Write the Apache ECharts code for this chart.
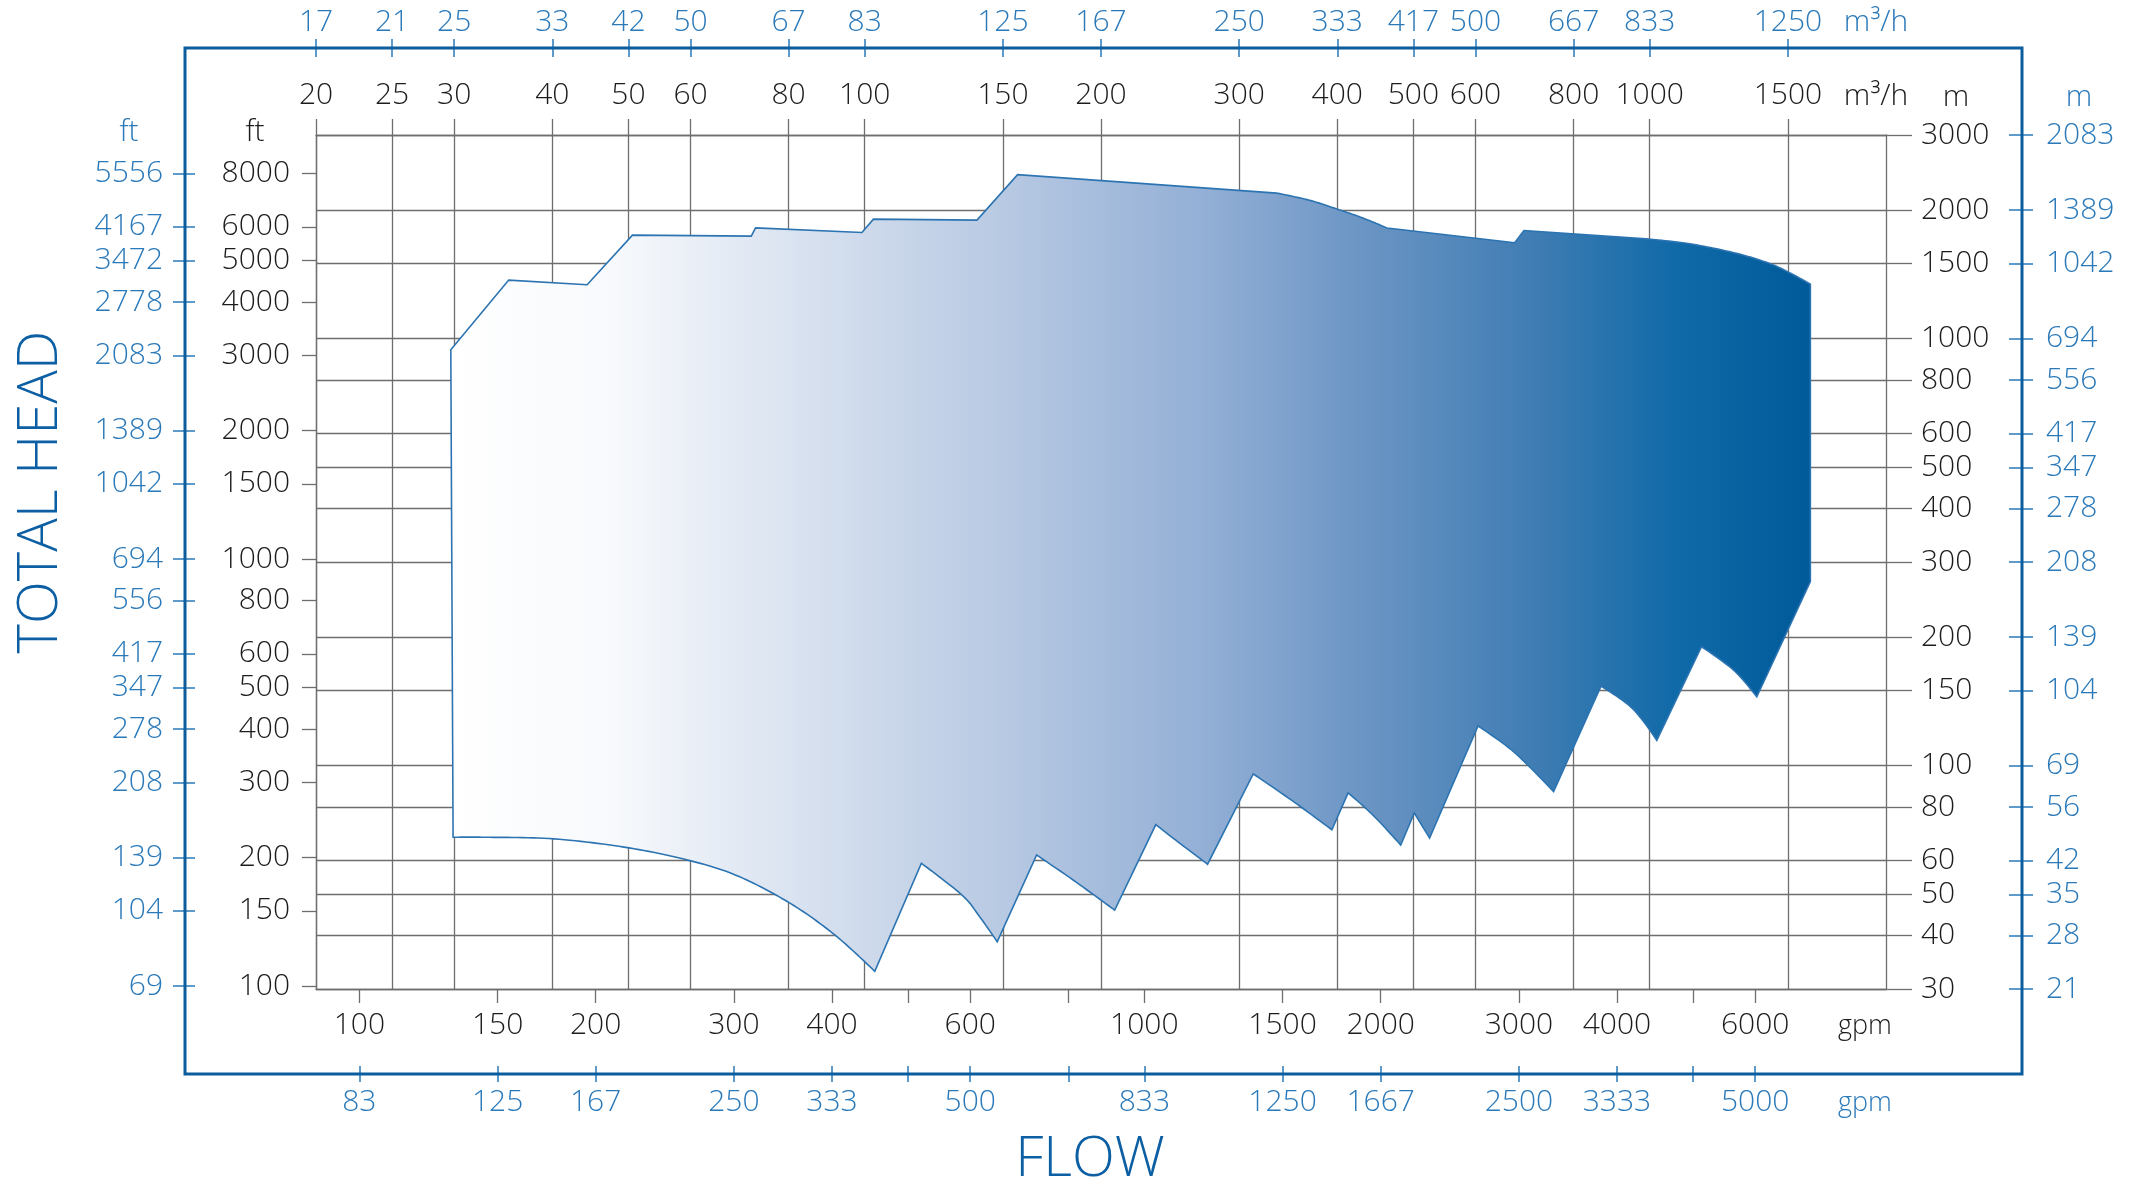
<!DOCTYPE html>
<html>
<head>
<meta charset="utf-8">
<script src="https://cdn.jsdelivr.net/npm/echarts@6/dist/echarts.min.js"></script>
<style>
html,body{margin:0;padding:0;background:#fff;}
#chart{width:2136px;height:1186px;}
</style>
</head>
<body>
<div id="chart"></div>
<script>
// ---------------- data ----------------
const mhTicks = [20,25,30,40,50,60,80,100,150,200,300,400,500,600,800,1000,1500];
const mhBlueLabels = ['17','21','25','33','42','50','67','83','125','167','250','333','417','500','667','833','1250'];
const gpmTicks = [100,150,200,300,400,500,600,800,1000,1500,2000,3000,4000,5000,6000];
const gpmLabels = ['100','150','200','300','400','','600','','1000','1500','2000','3000','4000','','6000'];
const gpmBlueLabels = ['83','125','167','250','333','','500','','833','1250','1667','2500','3333','','5000'];
const mTicks = [30,40,50,60,80,100,150,200,300,400,500,600,800,1000,1500,2000,3000];
const mBlueLabels = ['21','28','35','42','56','69','104','139','208','278','347','417','556','694','1042','1389','2083'];
const ftTicks = [100,150,200,300,400,500,600,800,1000,1500,2000,3000,4000,5000,6000,8000];
const ftBlueLabels = ['69','104','139','208','278','347','417','556','694','1042','1389','2083','2778','3472','4167','5556'];

// operating range envelope (flow m³/h, head m), clockwise from lower-left corner
const shapeFlow = [29.9, 29.7, 35.2, 44.3, 50.6, 71.7, 72.6, 99.2, 102.6, 139, 156.6, 334.9, 368.7, 402.6, 432.6, 462.8, 673, 691.5, 1000, 1130, 1284, 1414, 1507, 1602,
  1602, 1369, 1279, 1164, 1021, 951, 866.9, 754.4, 671.8, 604.4, 524.4, 501.3, 481.8, 444.8, 412.9, 393.7, 352.8, 312.6, 273.4, 251.8, 234.9,
  208.2, 184.3, 165.6, 147.5, 140.1, 133, 118.1, 103, 91.7, 80.4, 69.2, 60.4, 50.1, 40.2, 32.9];
const shapeHead = [68, 942, 1372, 1338, 1748, 1739, 1818, 1773, 1906, 1896, 2422, 2193, 2110, 2003, 1913, 1817, 1678, 1792, 1711, 1666, 1588, 1506, 1428, 1342,
  270, 145, 167.5, 190, 114.7, 136.1, 153.6, 87, 107.6, 123.9, 67.7, 77.5, 65.2, 76.4, 86.4, 70.8, 82.1, 95.7, 58.8, 65.9, 72.8,
  45.9, 54.0, 61.8, 38.7, 44.3, 49.8, 59.1, 33, 40.1, 47.6, 55.0, 59.7, 64.2, 67.4, 68.0];
// 1 = the outline passes smoothly through this point (pump curve), 0 = corner
const shapeSmooth = [0, 0, 0, 0, 0, 0, 0, 0, 0, 0, 0, 0, 1, 1, 1, 0, 0, 0, 0, 1, 1, 1, 1, 0,
  0, 0, 1, 0, 0, 1, 0, 0, 1, 0, 0, 0, 0, 1, 0, 0, 1, 0, 0, 1, 0,
  0, 1, 0, 0, 1, 1, 0, 0, 1, 1, 1, 1, 1, 1, 1];

// ---------------- helpers ----------------
const LOG = Math.log10;
const GPM2M3H = 0.2271247;
const FT2M = 0.3048;
const FONT = 'Open Sans';
const BLACK = '#1c1c1c';
const BLUE = '#2a79b9';
const DARKBLUE = '#0d5fa3';
const GRID = '#6e6e6e';

function labeler(vals, labels) {
  return function (v) {
    for (let i = 0; i < vals.length; i++) {
      if (Math.abs(vals[i] - v) < 1e-7) return labels[i];
    }
    return '';
  };
}

const X_MIN = LOG(20), X_MAX = LOG(2000);
const Y_MIN = LOG(30), Y_MAX = LOG(3000);
const FT_MIN = LOG(30 / FT2M), FT_MAX = LOG(3000 / FT2M);

const mhVals = mhTicks.map(LOG);
const gpmVals = gpmTicks.map(g => LOG(g * GPM2M3H));
const mVals = mTicks.map(LOG);
const ftVals = ftTicks.map(LOG);

const labelBase = { fontFamily: FONT, fontSize: 30, fontWeight: 300 };

const shapeData = shapeFlow.map((q, i) => [LOG(q), LOG(shapeHead[i])]);

// outline in pixels: straight between corners, Catmull-Rom through smooth points
function outline(P) {
  const n = P.length, out = [];
  const STEPS = 14;
  for (let i = 0; i < n; i++) {
    const p0 = P[(i - 1 + n) % n], a = P[i], b = P[(i + 1) % n], p3 = P[(i + 2) % n];
    const sa = shapeSmooth[i], sb = shapeSmooth[(i + 1) % n];
    out.push(a);
    if (!sa && !sb) continue;
    const c1 = sa ? [a[0] + (b[0] - p0[0]) / 6, a[1] + (b[1] - p0[1]) / 6] : a;
    const c2 = sb ? [b[0] - (p3[0] - a[0]) / 6, b[1] - (p3[1] - a[1]) / 6] : b;
    for (let s = 1; s < STEPS; s++) {
      const t = s / STEPS, u = 1 - t;
      out.push([
        u * u * u * a[0] + 3 * u * u * t * c1[0] + 3 * u * t * t * c2[0] + t * t * t * b[0],
        u * u * u * a[1] + 3 * u * u * t * c1[1] + 3 * u * t * t * c2[1] + t * t * t * b[1]
      ]);
    }
  }
  return out;
}

const chart = echarts.init(document.getElementById('chart'), null, { renderer: 'canvas' });

const option = {
  backgroundColor: '#ffffff',
  animation: false,
  grid: { left: 316, top: 135, width: 1570, height: 854, containLabel: false },
  xAxis: [
    { // m³/h black, top
      type: 'value', position: 'top', offset: 0, min: X_MIN, max: X_MAX,
      axisLine: { show: true, lineStyle: { color: GRID, width: 1.3 } },
      axisTick: { show: true, customValues: mhVals, length: 16, lineStyle: { color: GRID, width: 1.3 } },
      axisLabel: Object.assign({ customValues: mhVals, margin: 25, color: BLACK, formatter: labeler(mhVals, mhTicks.map(String)) }, labelBase),
      splitLine: { show: true, lineStyle: { color: GRID, width: 1.3 } }
    },
    { // m³/h blue, top frame
      type: 'value', position: 'top', offset: 78, min: X_MIN, max: X_MAX,
      axisLine: { show: false },
      axisTick: { show: true, customValues: mhVals, length: 18, lineStyle: { color: BLUE, width: 1.5 } },
      axisLabel: Object.assign({ customValues: mhVals, margin: 20, color: BLUE, formatter: labeler(mhVals, mhBlueLabels) }, labelBase),
      splitLine: { show: false }
    },
    { // gpm black, bottom
      type: 'value', position: 'bottom', offset: 0, min: X_MIN, max: X_MAX,
      axisLine: { show: true, lineStyle: { color: GRID, width: 1.3 } },
      axisTick: { show: true, customValues: gpmVals, length: 14, lineStyle: { color: GRID, width: 1.3 } },
      axisLabel: Object.assign({ customValues: gpmVals, margin: 21, color: BLACK, formatter: labeler(gpmVals, gpmLabels) }, labelBase),
      splitLine: { show: false }
    },
    { // gpm blue, bottom frame
      type: 'value', position: 'bottom', offset: 77, min: X_MIN, max: X_MAX,
      axisLine: { show: false },
      axisTick: { show: true, customValues: gpmVals, length: 16, lineStyle: { color: BLUE, width: 1.5 } },
      axisLabel: Object.assign({ customValues: gpmVals, margin: 21, color: BLUE, formatter: labeler(gpmVals, gpmBlueLabels) }, labelBase),
      splitLine: { show: false }
    }
  ],
  yAxis: [
    { // m black, right
      type: 'value', position: 'right', offset: 0, min: Y_MIN, max: Y_MAX,
      axisLine: { show: true, lineStyle: { color: GRID, width: 1.3 } },
      axisTick: { show: true, customValues: mVals, length: 26, lineStyle: { color: GRID, width: 1.3 } },
      axisLabel: Object.assign({ customValues: mVals, margin: 35, color: BLACK, formatter: labeler(mVals, mTicks.map(String)) }, labelBase),
      splitLine: { show: true, lineStyle: { color: GRID, width: 1.3 } }
    },
    { // m blue, right frame
      type: 'value', position: 'right', offset: 123, min: Y_MIN, max: Y_MAX,
      axisLine: { show: false },
      axisTick: { show: true, customValues: mVals, length: 24, lineStyle: { color: BLUE, width: 1.5 } },
      axisLabel: Object.assign({ customValues: mVals, margin: 37, color: BLUE, formatter: labeler(mVals, mBlueLabels) }, labelBase),
      splitLine: { show: false }
    },
    { // ft black, left
      type: 'value', position: 'left', offset: 0, min: FT_MIN, max: FT_MAX,
      axisLine: { show: true, lineStyle: { color: GRID, width: 1.3 } },
      axisTick: { show: true, customValues: ftVals, length: 14, lineStyle: { color: GRID, width: 1.3 } },
      axisLabel: Object.assign({ customValues: ftVals, margin: 26, color: BLACK, formatter: labeler(ftVals, ftTicks.map(String)) }, labelBase),
      splitLine: { show: false }
    },
    { // ft blue, left frame
      type: 'value', position: 'left', offset: 143, min: FT_MIN, max: FT_MAX,
      axisLine: { show: false },
      axisTick: { show: true, inside: true, customValues: ftVals, length: 22, lineStyle: { color: BLUE, width: 1.5 } },
      axisLabel: Object.assign({ customValues: ftVals, margin: 10, color: BLUE, formatter: labeler(ftVals, ftBlueLabels) }, labelBase),
      splitLine: { show: false }
    }
  ],
  series: [
    {
      type: 'custom',
      xAxisIndex: 0, yAxisIndex: 0,
      data: shapeData,
      z: 5,
      silent: true,
      renderItem: function (params, api) {
        if (params.dataIndex !== 0) return null;
        const pts = outline(shapeData.map(d => api.coord(d)));
        return {
          type: 'polygon',
          shape: { points: pts },
          style: {
            fill: new echarts.graphic.LinearGradient(0, 0, 1, 0, [
              { offset: 0, color: '#ffffff' },
              { offset: 0.12, color: '#f7f9fc' },
              { offset: 0.40, color: '#b9cae3' },
              { offset: 0.55, color: '#94b0d6' },
              { offset: 0.68, color: '#6893c3' },
              { offset: 0.80, color: '#3e7cb3' },
              { offset: 0.90, color: '#106aa8' },
              { offset: 1, color: '#005a99' }
            ]),
            stroke: '#2c74b1',
            lineWidth: 1.6,
            lineJoin: 'miter'
          }
        };
      }
    }
  ],
  graphic: [
    { type: 'rect', z: 1, shape: { x: 185, y: 48, width: 1837, height: 1026 }, style: { fill: null, stroke: '#0b5d9e', lineWidth: 3 } },
    { type: 'text', x: 41, y: 492, rotation: Math.PI / 2, style: { text: 'TOTAL HEAD', fill: DARKBLUE, font: '300 56px "Open Sans"', textAlign: 'center', textVerticalAlign: 'middle' } },
    { type: 'text', x: 1090, y: 1160, style: { text: 'FLOW', fill: DARKBLUE, font: '300 56px "Open Sans"', textAlign: 'center', textVerticalAlign: 'middle' } },
    { type: 'text', x: 129, y: 132, style: { text: 'ft', fill: BLUE, font: '300 30px "Open Sans"', textAlign: 'center', textVerticalAlign: 'middle' } },
    { type: 'text', x: 255, y: 132, style: { text: 'ft', fill: BLACK, font: '300 30px "Open Sans"', textAlign: 'center', textVerticalAlign: 'middle' } },
    { type: 'text', x: 1876, y: 22, style: { text: 'm³/h', fill: BLUE, font: '300 30px "Open Sans"', textAlign: 'center', textVerticalAlign: 'middle' } },
    { type: 'text', x: 1876, y: 96, style: { text: 'm³/h', fill: BLACK, font: '300 30px "Open Sans"', textAlign: 'center', textVerticalAlign: 'middle' } },
    { type: 'text', x: 1956, y: 97, style: { text: 'm', fill: BLACK, font: '300 30px "Open Sans"', textAlign: 'center', textVerticalAlign: 'middle' } },
    { type: 'text', x: 2079, y: 97, style: { text: 'm', fill: BLUE, font: '300 30px "Open Sans"', textAlign: 'center', textVerticalAlign: 'middle' } },
    { type: 'text', x: 1865, y: 1026, style: { text: 'gpm', fill: BLACK, font: '300 27px "Open Sans"', textAlign: 'center', textVerticalAlign: 'middle' } },
    { type: 'text', x: 1865, y: 1103, style: { text: 'gpm', fill: BLUE, font: '300 27px "Open Sans"', textAlign: 'center', textVerticalAlign: 'middle' } }
  ]
};

chart.setOption(option);
</script>
</body>
</html>
